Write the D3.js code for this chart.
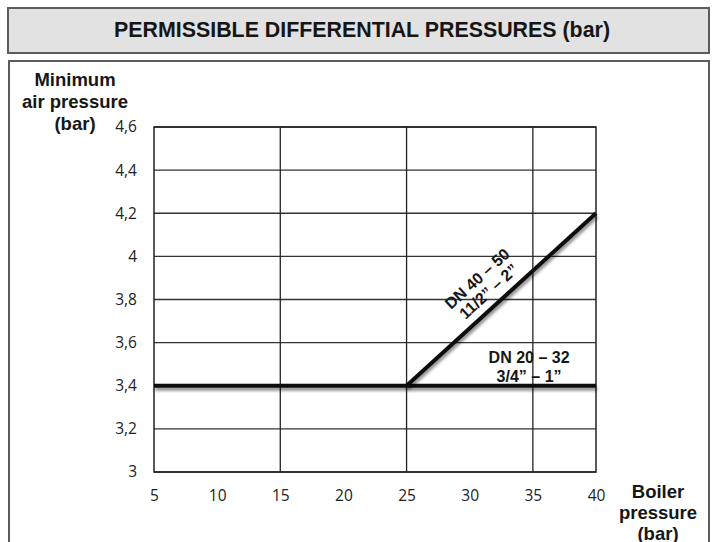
<!DOCTYPE html>
<html><head><meta charset="utf-8">
<script src="https://cdn.jsdelivr.net/npm/d3@7"></script>
<style>body{margin:0;background:#fff}svg{display:block}</style>
</head><body>
<script>
const title = "PERMISSIBLE DIFFERENTIAL PRESSURES (bar)";
const xTicks = [5, 10, 15, 20, 25, 30, 35, 40];
const yTicks = [3, 3.2, 3.4, 3.6, 3.8, 4, 4.2, 4.4, 4.6];
const xGrid = [15, 25, 35];
const seriesSmall = [{x: 5, y: 3.4}, {x: 40, y: 3.4}];       // DN 20 – 32
const seriesLarge = [{x: 25, y: 3.4}, {x: 40, y: 4.2}];      // DN 40 – 50
const labelSmall = ["DN 20 – 32", "3/4” – 1”"];
const labelLarge = ["DN 40 – 50", "11/2” – 2”"];
const yLabel = ["Minimum", "air pressure", "(bar)"];
const xLabel = ["Boiler", "pressure", "(bar)"];

const W = 712, H = 542;
const svg = d3.select("body").append("svg").attr("width", W).attr("height", H);
const defs = svg.append("defs");
const f = defs.append("filter").attr("id", "sh").attr("filterUnits", "userSpaceOnUse")
  .attr("x", 0).attr("y", 0).attr("width", W).attr("height", H);
f.append("feDropShadow").attr("dx", 1).attr("dy", 3).attr("stdDeviation", 1.6).attr("flood-color", "#000").attr("flood-opacity", 0.45);

// boxes
svg.append("rect").attr("x", 8).attr("y", 8).attr("width", 701).attr("height", 45)
  .attr("fill", "#e2e2e2").attr("stroke", "#5c5c5c").attr("stroke-width", 2);
svg.append("rect").attr("x", 9).attr("y", 61).attr("width", 700).attr("height", 500)
  .attr("fill", "#fff").attr("stroke", "#5c5c5c").attr("stroke-width", 2);
svg.append("text").attr("x", 362).attr("y", 37).attr("text-anchor", "middle")
  .attr("font-family", "'Liberation Sans Narrow','Arial Narrow','Liberation Sans',Arial,sans-serif")
  .attr("font-weight", "bold").attr("font-size", 22).attr("fill", "#161616")
  .attr("textLength", 496).attr("lengthAdjust", "spacingAndGlyphs").text(title);

const x = d3.scaleLinear().domain([5, 40]).range([154, 596]);
const y = d3.scaleLinear().domain([3, 4.6]).range([472, 127]);

const g = svg.append("g");
g.selectAll("line.hg").data(yTicks).join("line").attr("class", "hg")
  .attr("x1", x(5)).attr("x2", x(40)).attr("y1", d => y(d)).attr("y2", d => y(d))
  .attr("stroke", "#333").attr("stroke-width", 1.3);
g.selectAll("line.vg").data(xGrid).join("line").attr("class", "vg")
  .attr("y1", y(3)).attr("y2", y(4.6)).attr("x1", d => x(d)).attr("x2", d => x(d))
  .attr("stroke", "#222").attr("stroke-width", 1.3);
g.append("rect").attr("x", x(5)).attr("y", y(4.6)).attr("width", x(40) - x(5)).attr("height", y(3) - y(4.6))
  .attr("fill", "none").attr("stroke", "#222").attr("stroke-width", 1.5);

const tickFont = "'Open Sans','Noto Sans',sans-serif";
const xAxis = d3.axisBottom(x).tickValues(xTicks).tickSize(0).tickPadding(18).tickFormat(d3.format("d"));
const gx = svg.append("g").attr("transform", `translate(0,${y(3)})`).call(xAxis);
gx.select(".domain").remove();
gx.selectAll("text").attr("font-family", tickFont).attr("font-size", 15.5).attr("fill", "#222");
const yAxis = d3.axisLeft(y).tickValues(yTicks).tickSize(0).tickPadding(17)
  .tickFormat(d => String(+d.toFixed(1)).replace(".", ","));
const gy = svg.append("g").attr("transform", `translate(${x(5)},0)`).call(yAxis);
gy.select(".domain").remove();
gy.selectAll("text").attr("font-family", tickFont).attr("font-size", 15.5).attr("fill", "#222");

const line = d3.line().x(d => x(d.x)).y(d => y(d.y));
[seriesSmall, seriesLarge].forEach(s => {
  svg.append("path").attr("d", line(s)).attr("fill", "none").attr("stroke", "#111")
    .attr("stroke-width", 4).attr("filter", "url(#sh)");
});

const boldFont = "'Liberation Sans',Arial,Helvetica,sans-serif";
svg.append("g").selectAll("text").data(labelSmall).join("text")
  .attr("x", x(34.7)).attr("y", (d, i) => 363 + i * 19).attr("text-anchor", "middle")
  .attr("font-family", boldFont).attr("font-weight", "bold").attr("font-size", 16).attr("fill", "#161616")
  .text(d => d);

const p0 = [x(seriesLarge[0].x), y(seriesLarge[0].y)], p1 = [x(seriesLarge[1].x), y(seriesLarge[1].y)];
const ang = Math.atan2(p1[1] - p0[1], p1[0] - p0[0]) * 180 / Math.PI;
const t = 0.485;
const pm = [p0[0] + (p1[0] - p0[0]) * t, p0[1] + (p1[1] - p0[1]) * t];
svg.append("g").attr("transform", `translate(${pm[0]},${pm[1]}) rotate(${ang})`)
  .selectAll("text").data(labelLarge).join("text")
  .attr("x", 0).attr("y", (d, i) => -26 + i * 17).attr("text-anchor", "middle")
  .attr("font-family", boldFont).attr("font-weight", "bold").attr("font-size", 16).attr("fill", "#161616")
  .text(d => d);

svg.append("g").selectAll("text").data(yLabel).join("text")
  .attr("x", 75).attr("y", (d, i) => 86 + i * 22).attr("text-anchor", "middle")
  .attr("font-family", boldFont).attr("font-weight", "bold").attr("font-size", 18.5).attr("fill", "#161616")
  .text(d => d);
svg.append("g").selectAll("text").data(xLabel).join("text")
  .attr("x", 658).attr("y", (d, i) => 498 + i * 21).attr("text-anchor", "middle")
  .attr("font-family", boldFont).attr("font-weight", "bold").attr("font-size", 18.5).attr("fill", "#161616")
  .text(d => d);
</script>
</body></html>
